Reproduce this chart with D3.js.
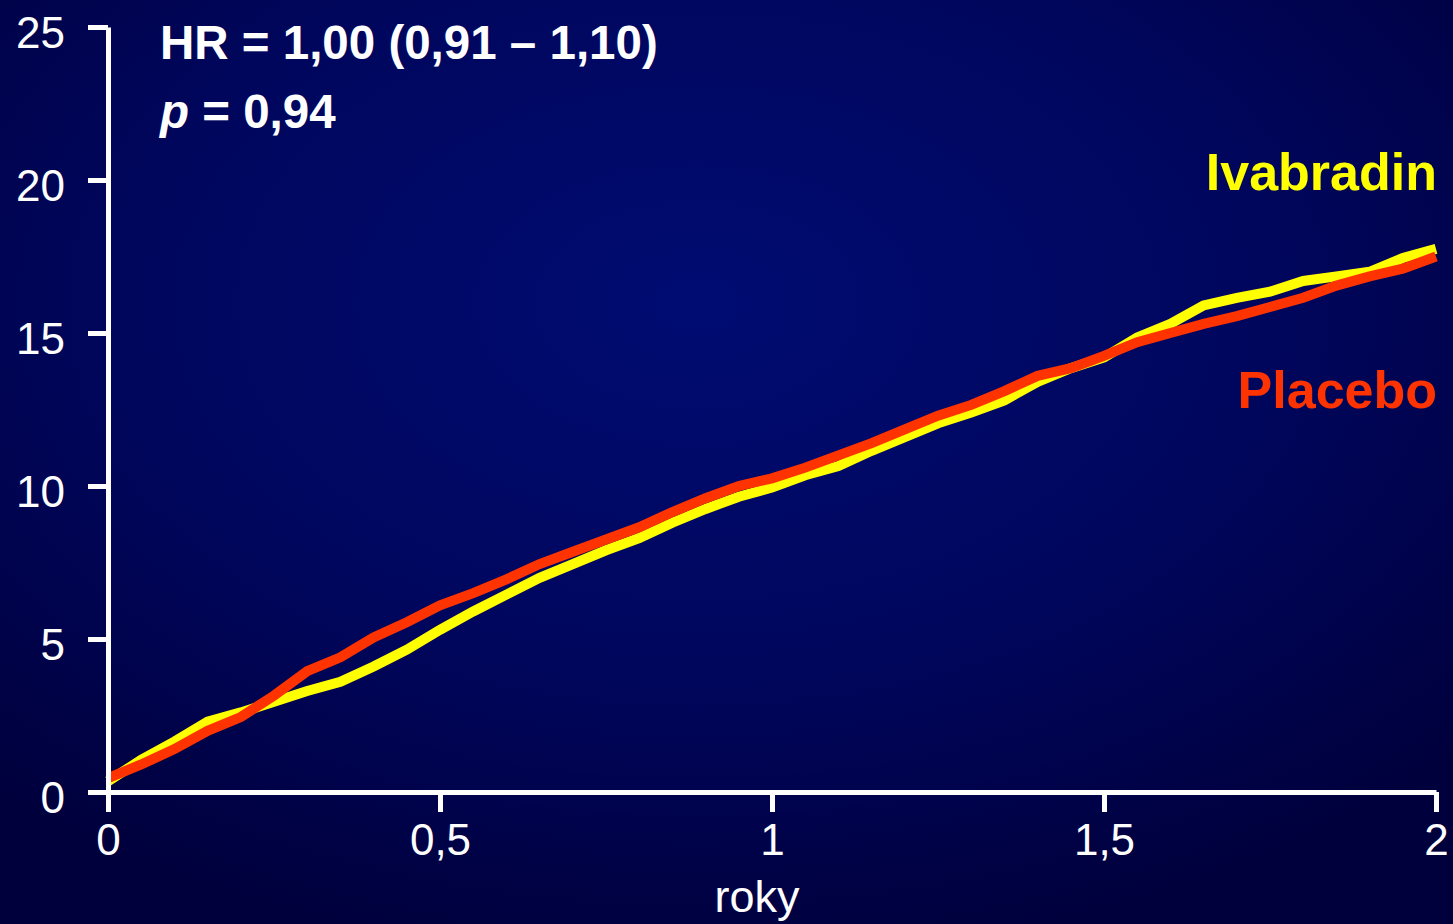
<!DOCTYPE html>
<html>
<head>
<meta charset="utf-8">
<script src="https://cdn.jsdelivr.net/npm/d3@7/dist/d3.min.js"></script>
<style>
  html, body { margin: 0; padding: 0; background: #000044; overflow: hidden; }
  svg { display: block; font-family: "Liberation Sans", Arial, sans-serif; }
</style>
</head>
<body>
<svg id="chart" width="1453" height="924"></svg>
<script>
// time in years
var years = [0, 0.05, 0.1, 0.15, 0.2, 0.25, 0.3, 0.35, 0.4, 0.45, 0.5,
  0.55, 0.6, 0.65, 0.7, 0.75, 0.8, 0.85, 0.9, 0.95, 1.0,
  1.05, 1.1, 1.15, 1.2, 1.25, 1.3, 1.35, 1.4, 1.45, 1.5,
  1.55, 1.6, 1.65, 1.7, 1.75, 1.8, 1.85, 1.9, 1.95, 2.0];

// cumulative event rate (%)
var ivabradin = [0.35, 1.05, 1.65, 2.3, 2.6, 2.95, 3.3, 3.6, 4.1, 4.65, 5.3,
  5.9, 6.45, 7.0, 7.45, 7.9, 8.3, 8.8, 9.25, 9.65, 9.95,
  10.35, 10.65, 11.15, 11.6, 12.05, 12.4, 12.8, 13.4, 13.85, 14.2,
  14.85, 15.3, 15.9, 16.15, 16.35, 16.7, 16.85, 17.0, 17.45, 17.75];

var placebo = [0.45, 0.9, 1.4, 2.0, 2.45, 3.15, 3.95, 4.4, 5.05, 5.55, 6.1,
  6.5, 6.95, 7.45, 7.85, 8.25, 8.65, 9.15, 9.6, 10.0, 10.25,
  10.6, 11.0, 11.4, 11.85, 12.3, 12.65, 13.1, 13.6, 13.85, 14.25,
  14.7, 15.0, 15.3, 15.55, 15.85, 16.15, 16.55, 16.85, 17.1, 17.5];

var xTicks = [0, 0.5, 1, 1.5, 2];
var yTicks = [0, 5, 10, 15, 20, 25];

var statLine1 = 'HR = 1,00 (0,91 \u2013 1,10)';
var statLine2 = ' = 0,94';

var svg = d3.select('#chart');
var W = 1453, H = 924;
var margins = { left: 108, top: 27, right: 17, bottom: 132 };

// background
var defs = svg.append('defs');
var grad = defs.append('radialGradient')
  .attr('id', 'bg')
  .attr('cx', '48%').attr('cy', '33%').attr('r', '72%');
grad.append('stop').attr('offset', '0%').attr('stop-color', '#000c72');
grad.append('stop').attr('offset', '55%').attr('stop-color', '#00065c');
grad.append('stop').attr('offset', '100%').attr('stop-color', '#00003c');
svg.append('rect').attr('width', W).attr('height', H).attr('fill', 'url(#bg)');

var xScale = d3.scaleLinear().domain([0, 2]).range([margins.left, W - margins.right]);
var yScale = d3.scaleLinear().domain([0, 25]).range([H - margins.bottom, margins.top]);

var fmt = function(d) { return String(d).replace('.', ','); };

// curves
var line = d3.line()
  .x(function(d) { return xScale(d[0]); })
  .y(function(d) { return yScale(d[1]); })
  .curve(d3.curveLinear);

var series = [
  { name: 'Ivabradin', vals: ivabradin, color: '#ffff00' },
  { name: 'Placebo', vals: placebo, color: '#ff3300' }
];

svg.append('g').attr('class', 'curves')
  .selectAll('path').data(series).enter()
  .append('path')
  .attr('d', function(s) { return line(years.map(function(t, i) { return [t, s.vals[i]]; })); })
  .attr('fill', 'none')
  .attr('stroke', function(s) { return s.color; })
  .attr('stroke-width', 10)
  .attr('stroke-linejoin', 'miter');

// axes
var xAxis = d3.axisBottom(xScale).tickValues(xTicks).tickFormat(fmt)
  .tickSize(20).tickSizeOuter(0).tickPadding(12);
var yAxis = d3.axisLeft(yScale).tickValues(yTicks).tickFormat(fmt)
  .tickSize(20).tickSizeOuter(0).tickPadding(23);

var gx = svg.append('g')
  .attr('transform', 'translate(0,' + yScale(0) + ')')
  .call(xAxis);
var gy = svg.append('g')
  .attr('transform', 'translate(' + xScale(0) + ',0)')
  .call(yAxis);

[gx, gy].forEach(function(g) {
  g.select('.domain').attr('stroke', '#ffffff').attr('stroke-width', 5);
  g.selectAll('.tick line').attr('stroke', '#ffffff').attr('stroke-width', 5);
  g.selectAll('.tick text')
    .attr('fill', '#ffffff')
    .style('font-family', '"Liberation Sans", Arial, sans-serif')
    .style('font-size', '44px');
});
gy.selectAll('.tick text').attr('dy', '0.46em');

svg.append('text')
  .attr('x', 757).attr('y', 912)
  .attr('text-anchor', 'middle')
  .attr('fill', '#ffffff')
  .style('font-size', '45px')
  .text('roky');

// statistics
svg.append('text')
  .attr('x', 160).attr('y', 59)
  .attr('fill', '#ffffff')
  .style('font-size', '47.5px').style('font-weight', 'bold')
  .text(statLine1);

var pText = svg.append('text')
  .attr('x', 160).attr('y', 128)
  .attr('fill', '#ffffff')
  .style('font-size', '47.5px').style('font-weight', 'bold');
pText.append('tspan').style('font-style', 'italic').text('p');
pText.append('tspan').text(statLine2);

// series labels
svg.append('text')
  .attr('x', 1437).attr('y', 190)
  .attr('text-anchor', 'end')
  .attr('fill', '#ffff00')
  .style('font-size', '52px').style('font-weight', 'bold')
  .text(series[0].name);

svg.append('text')
  .attr('x', 1437).attr('y', 408)
  .attr('text-anchor', 'end')
  .attr('fill', '#ff3300')
  .style('font-size', '52px').style('font-weight', 'bold')
  .text(series[1].name);
</script>
</body>
</html>
